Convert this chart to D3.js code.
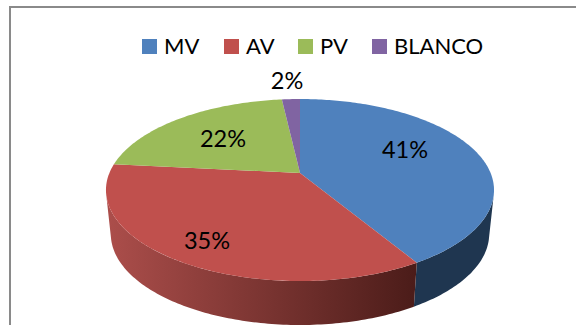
<!DOCTYPE html>
<html>
<head>
<meta charset="utf-8">
<script src="https://cdn.jsdelivr.net/npm/d3@7"></script>
<style>
    html, body { margin: 0; padding: 0; background: #fff; }
    svg { display: block; }
    text { font-family: Lato, "Open Sans", sans-serif; fill: #000; }
</style>
</head>
<body>
<div id="chart"></div>
<script>
var categories = ['MV', 'AV', 'PV', 'BLANCO'];
var values = [41.4, 35.2, 21.6, 1.8];
var labels = ['41%', '35%', '22%', '2%'];
var colorMap = ['#4f81bd', '#c0504d', '#9bbb59', '#8064a2'];

var width = 576, height = 325;

var svg = d3.select('#chart').append('svg')
    .attr('width', width)
    .attr('height', height);

// frame of the chart area, runs off the right and bottom of the picture
svg.append('rect')
    .attr('x', 10).attr('y', 7)
    .attr('width', 700).attr('height', 500)
    .attr('fill', '#fff')
    .attr('stroke', '#8a8a8a')
    .attr('stroke-width', 2);

// side wall shading
var defs = svg.append('defs');
function wallGradient(id, stops) {
    var g = defs.append('linearGradient')
        .attr('id', id)
        .attr('gradientUnits', 'userSpaceOnUse')
        .attr('x1', 106).attr('x2', 416)
        .attr('y1', 0).attr('y2', 0);
    g.append('stop').attr('offset', '0%').attr('stop-color', stops[0]);
    g.append('stop').attr('offset', '100%').attr('stop-color', stops[1]);
}
wallGradient('wall0', ['#1f3650', '#1f3650']);
wallGradient('wall1', ['#ac4e4b', '#4b1c19']);

// tilted disc: perspective projection of the unit circle
var cx = 300, cy = 173;
var tilt = 0.187, radiusX = 190.6, radiusY = 87.8, depth = 44, bottomShrink = 0.975;

function project(angle, drop) {
    var u = Math.sin(angle), v = -Math.cos(angle);
    var w = 1 - tilt * v;
    var shrink = drop ? bottomShrink : 1;
    return [cx + shrink * radiusX * u / w, cy + radiusY * v / w + (drop || 0)];
}

function rimPoints(a0, a1, drop) {
    var n = Math.max(2, Math.ceil((a1 - a0) * 60));
    return d3.range(n + 1).map(function (i) {
        return project(a0 + (a1 - a0) * i / n, drop);
    });
}

var slices = d3.pie().sort(null)(values);
var line = d3.line();

// wall is only visible on the near half of the disc
var nearStart = Math.PI * 0.58, nearEnd = Math.PI * 1.42;
slices.forEach(function (d, i) {
    var a0 = Math.max(d.startAngle, nearStart);
    var a1 = Math.min(d.endAngle, nearEnd);
    if (a1 <= a0 || i > 1) return;
    var top = rimPoints(a0, a1, 0);
    var bottom = rimPoints(a0, a1, depth).reverse();
    svg.append('path')
        .attr('d', line(top.concat(bottom)) + 'Z')
        .attr('fill', 'url(#wall' + i + ')');
});

slices.forEach(function (d, i) {
    var pts = [[cx, cy]].concat(rimPoints(d.startAngle, d.endAngle, 0));
    svg.append('path')
        .attr('d', line(pts) + 'Z')
        .attr('fill', colorMap[i]);
});

// data labels
var labelPos = [[405, 149], [207, 240], [223, 138], [287, 80]];
svg.selectAll('.lbl')
    .data(labels)
    .enter().append('text')
    .attr('class', 'lbl')
    .attr('x', function (d, i) { return labelPos[i][0]; })
    .attr('y', function (d, i) { return labelPos[i][1]; })
    .attr('text-anchor', 'middle')
    .attr('dominant-baseline', 'central')
    .style('font-size', '23.5px')
    .text(function (d) { return d; });

// legend
var legendX = [142, 224, 298, 372];
var legend = svg.selectAll('.legend')
    .data(categories)
    .enter().append('g')
    .attr('class', 'legend')
    .attr('transform', function (d, i) { return 'translate(' + legendX[i] + ',39)'; });
legend.append('rect')
    .attr('width', 15).attr('height', 15)
    .attr('fill', function (d, i) { return colorMap[i]; });
legend.append('text')
    .attr('x', 22).attr('y', 15)
    .style('font-size', '22px')
    .text(function (d) { return d; });
</script>
</body>
</html>
